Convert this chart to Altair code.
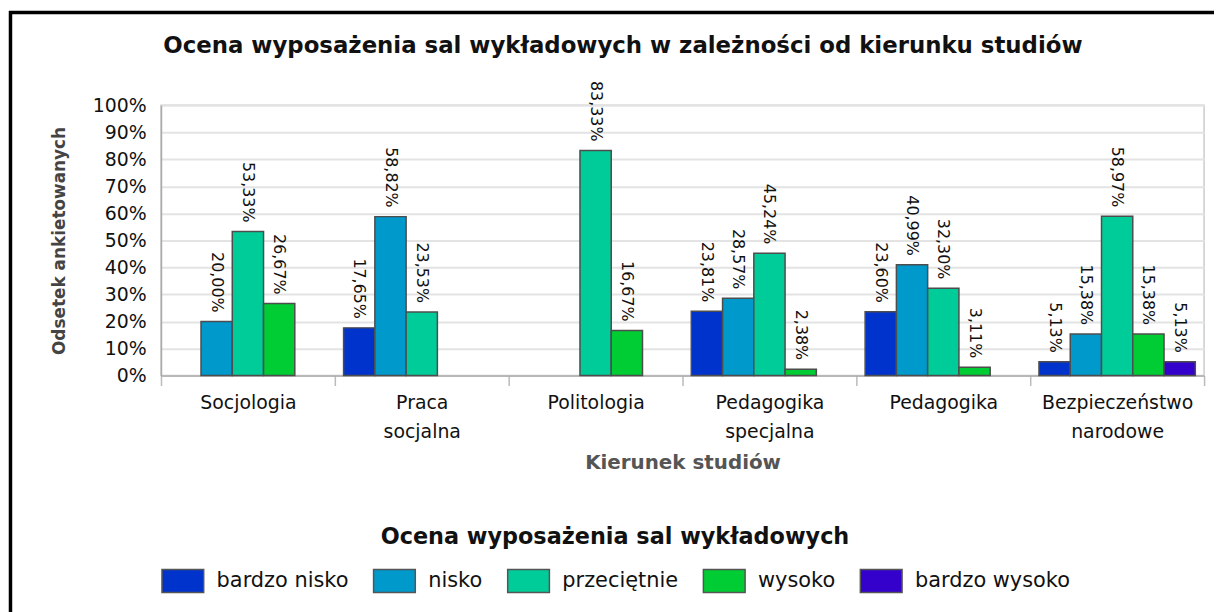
import altair as alt
import pandas as pd

categories = ["Socjologia", "Praca socjalna", "Politologia", "Pedagogika specjalna",
              "Pedagogika", "Bezpieczeństwo narodowe"]
series = ["bardzo nisko", "nisko", "przeciętnie", "wysoko", "bardzo wysoko"]
colors = ["#0033CC", "#0099CC", "#00CC99", "#00CC33", "#3300CC"]

# values per series (None = no bar)
bardzo_nisko = [None, 17.65, None, 23.81, 23.60, 5.13]
nisko = [20.00, 58.82, None, 28.57, 40.99, 15.38]
przecietnie = [53.33, 23.53, 83.33, 45.24, 32.30, 58.97]
wysoko = [26.67, None, 16.67, 2.38, 3.11, 15.38]
bardzo_wysoko = [None, None, None, None, None, 5.13]

y_ticks = list(range(0, 101, 10))

rows = []
for s, vals in zip(series, [bardzo_nisko, nisko, przecietnie, wysoko, bardzo_wysoko]):
    for c, v in zip(categories, vals):
        if v is not None:
            rows.append({"kierunek": c, "ocena": s, "wartosc": v,
                         "etykieta": f"{v:.2f}".replace(".", ",") + "%"})
df = pd.DataFrame(rows)

FONT = "DejaVu Sans"
W, H = 1050, 272

x_enc = alt.X("kierunek:N", sort=categories,
              scale=alt.Scale(paddingInner=0, paddingOuter=0),
              axis=alt.Axis(title="Kierunek studiów", tickBand="extent", tickSize=10,
                            tickColor="#bbbbbb", tickWidth=1.5, domainColor="#aaaaaa",
                            domainWidth=1.5, labelAngle=0, labelFont=FONT, labelFontSize=19,
                            labelColor="#111111", labelPadding=8, labelLineHeight=29,
                            labelBaseline="top", labelLimit=0,
                            labelExpr="split(datum.label, ' ')",
                            titleFont=FONT, titleFontSize=20, titleFontWeight="bold",
                            titleColor="#555555", titlePadding=12))
xo_enc = alt.XOffset("ocena:N", sort=series,
                     scale=alt.Scale(domain=series, paddingOuter=0.28, paddingInner=0))
y_enc = alt.Y("wartosc:Q",
              scale=alt.Scale(domain=[0, 100], nice=False),
              axis=alt.Axis(title="Odsetek ankietowanych", values=y_ticks,
                            labelExpr="datum.value + '%'", ticks=False, labelPadding=15,
                            labelOverlap=False,
                            labelFont=FONT, labelFontSize=19, labelColor="#111111",
                            gridColor="#e3e3e3", gridWidth=2, domainColor="#aaaaaa",
                            domainWidth=1.5,
                            titleFont=FONT, titleFontSize=17, titleFontWeight="bold",
                            titleColor="#444444", titlePadding=24))

bars = alt.Chart(df).mark_bar(stroke="#4d4d4d", strokeWidth=1.5).encode(
    x=x_enc, xOffset=xo_enc, y=y_enc,
    color=alt.Color("ocena:N", sort=series,
                    scale=alt.Scale(domain=series, range=colors),
                    legend=alt.Legend(title="Ocena wyposażenia sal wykładowych",
                                      orient="none", legendX=0, legendY=424,
                                      direction="horizontal", titleAnchor="middle",
                                      titleFont=FONT, titleFontSize=22.5, titleFontWeight="bold",
                                      titleColor="#111111", titlePadding=10, titleLimit=0,
                                      labelFont=FONT, labelFontSize=21, labelColor="#111111",
                                      labelLimit=0,
                                      symbolType="M-1,-0.55H1V0.55H-1Z", symbolSize=1764,
                                      symbolStrokeColor="#555555", symbolStrokeWidth=1.5,
                                      symbolOpacity=1, columnPadding=22, labelOffset=12)),
)

labels = alt.Chart(df).mark_text(angle=90, align="right", baseline="middle", dx=-9,
                                 font=FONT, fontSize=16, color="#111111").encode(
    x=x_enc, xOffset=xo_enc, y=y_enc,
    text="etykieta:N",
)

frame_data = alt.Data(values=[{"a": 1}])
frame_top = alt.Chart(frame_data).mark_rule(color="black", strokeWidth=3.5).encode(
    x=alt.value(-153), x2=alt.value(W + 20), y=alt.value(-93.5))
frame_left = alt.Chart(frame_data).mark_rule(color="black", strokeWidth=3.5).encode(
    x=alt.value(-151.5), y=alt.value(-95), y2=alt.value(H + 240))

chart = alt.layer(bars, labels, frame_top, frame_left).properties(
    width=W, height=H,
    title=alt.TitleParams("Ocena wyposażenia sal wykładowych w zależności od kierunku studiów",
                          font=FONT, fontSize=23, fontWeight="bold", color="#111111",
                          anchor="middle", dx=-60, offset=-49, limit=0),
    autosize=alt.AutoSizeParams(type="none"),
    padding={"left": 154, "top": 96, "right": 10, "bottom": 236},
).configure_view(stroke="#cccccc", strokeWidth=1.5)

chart.save("out.html", embed_options={"renderer": "svg", "actions": False})
